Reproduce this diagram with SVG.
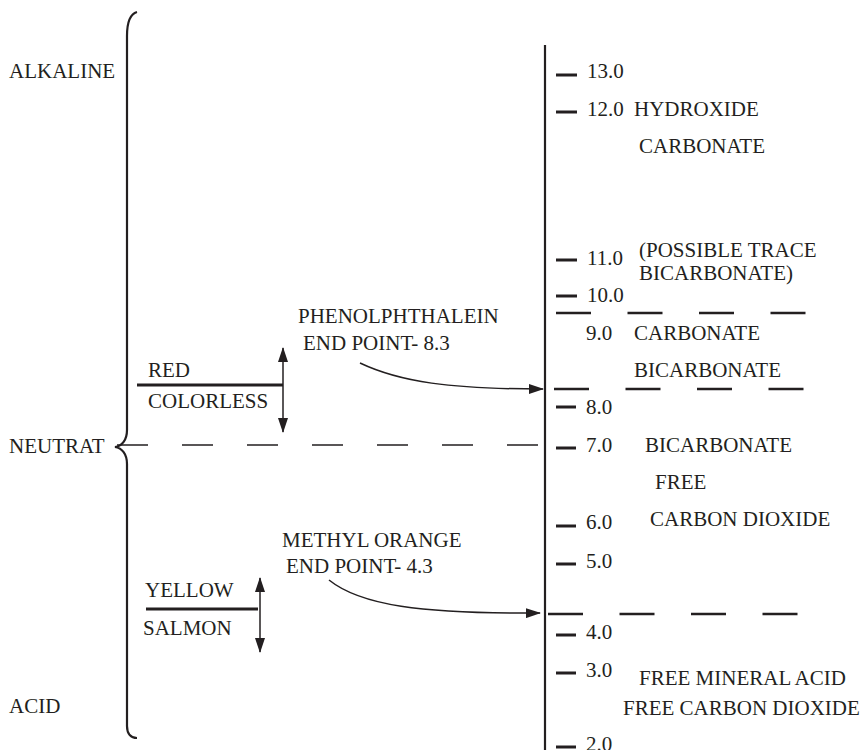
<svg xmlns="http://www.w3.org/2000/svg" width="864" height="750" viewBox="0 0 864 750">
<style>
text{font-family:"Liberation Serif","Times New Roman",serif;font-size:21px;fill:#231f20}
.ax{stroke:#231f20;stroke-width:2.2;fill:none}
.tick{stroke:#231f20;stroke-width:3;fill:none}
.dash{stroke:#231f20;stroke-width:2.6;fill:none;stroke-dasharray:35 36.5}
.ndash{stroke:#231f20;stroke-width:1.6;fill:none;stroke-dasharray:31 34}
.bar{stroke:#231f20;stroke-width:2.8;fill:none}
.arr{stroke:#231f20;stroke-width:1.5;fill:none}
</style>
<defs>
<marker id="ah" viewBox="0 0 15 10" refX="14" refY="5" markerWidth="15" markerHeight="10" markerUnits="userSpaceOnUse" orient="auto-start-reverse">
<path d="M0,0 L15,5 L0,10 z" fill="#231f20"/>
</marker>
</defs>
<g id="axis">
<line class="ax" x1="545" y1="45" x2="545" y2="750"/>
<g id="ticks">
<line class="tick" x1="556" y1="75" x2="577" y2="75"/>
<line class="tick" x1="556" y1="112" x2="577" y2="112"/>
<line class="tick" x1="556" y1="260" x2="577" y2="260"/>
<line class="tick" x1="556" y1="296" x2="577" y2="296"/>
<line class="tick" x1="556" y1="407" x2="576" y2="407"/>
<line class="tick" x1="556" y1="448" x2="576" y2="448"/>
<line class="tick" x1="556" y1="526" x2="576" y2="526"/>
<line class="tick" x1="556" y1="564" x2="576" y2="564"/>
<line class="tick" x1="556" y1="635" x2="576" y2="635"/>
<line class="tick" x1="556" y1="673" x2="576" y2="673"/>
<line class="tick" x1="556" y1="747" x2="576" y2="747"/>
</g>
<text x="587" y="78">13.0</text>
<text x="587" y="116">12.0</text>
<text x="587" y="265">11.0</text>
<text x="587" y="302">10.0</text>
<text x="586" y="340">9.0</text>
<text x="586" y="414">8.0</text>
<text x="586" y="452">7.0</text>
<text x="586" y="529">6.0</text>
<text x="586" y="568">5.0</text>
<text x="586" y="639">4.0</text>
<text x="586" y="677">3.0</text>
<text x="586" y="751">2.0</text>
</g>
<g id="zones">
<text x="634" y="116">HYDROXIDE</text>
<text x="639" y="153">CARBONATE</text>
<text x="639" y="257">(POSSIBLE TRACE</text>
<text x="639" y="280">BICARBONATE)</text>
<text x="634" y="340">CARBONATE</text>
<text x="634" y="377">BICARBONATE</text>
<text x="645" y="452">BICARBONATE</text>
<text x="655" y="489">FREE</text>
<text x="650" y="526">CARBON DIOXIDE</text>
<text x="639" y="685">FREE MINERAL ACID</text>
<text x="623" y="715">FREE CARBON DIOXIDE</text>
</g>
<g id="brace">
<path class="ax" d="M137,12 C130,14 127,24 127,36 L127,430 C127,440 122,446 115,447 C122,448 127,454 127,464 L127,726 C127,734 131,738 137,738" stroke-width="1.6"/>
<text x="9" y="78">ALKALINE</text>
<text x="9" y="453">NEUTRAT</text>
<text x="9" y="713">ACID</text>
</g>
<g id="phenolphthalein">
<line class="bar" x1="137" y1="385" x2="283" y2="385"/>
<text x="148" y="377">RED</text>
<text x="148" y="408">COLORLESS</text>
<line class="arr" x1="283" y1="348" x2="283" y2="432" marker-start="url(#ah)" marker-end="url(#ah)"/>
<text x="298" y="323">PHENOLPHTHALEIN</text>
<text x="303" y="350">END POINT- 8.3</text>
</g>
<g id="methylorange">
<line class="bar" x1="146" y1="609" x2="258" y2="609"/>
<text x="145" y="597">YELLOW</text>
<text x="143" y="635">SALMON</text>
<line class="arr" x1="260" y1="578" x2="260" y2="652" marker-start="url(#ah)" marker-end="url(#ah)"/>
<text x="282" y="547">METHYL ORANGE</text>
<text x="286" y="573">END POINT- 4.3</text>
</g>
<g id="connectors">
<line class="ndash" x1="117" y1="445" x2="545" y2="445"/>
<line class="dash" x1="556" y1="313" x2="806" y2="313"/>
<line class="dash" x1="554" y1="389" x2="804" y2="389"/>
<line class="dash" x1="548" y1="614" x2="798" y2="614"/>
<path class="arr" d="M360,363 C400,382 450,389 543,389" marker-end="url(#ah)"/>
<path class="arr" d="M329,580 C360,605 420,614 540,613" marker-end="url(#ah)"/>
</g>
</svg>
